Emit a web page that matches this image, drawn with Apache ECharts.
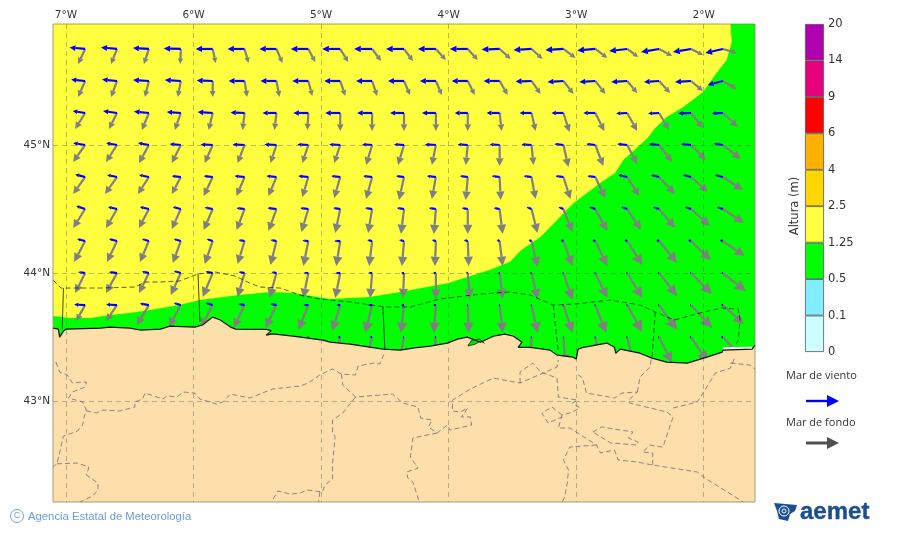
<!DOCTYPE html>
<html><head><meta charset="utf-8">
<style>html,body{margin:0;padding:0;background:#fff}#c{width:900px;height:533px}</style>
<script src="https://cdn.jsdelivr.net/npm/echarts@6/dist/echarts.min.js"></script>
</head><body><div id="c"></div>
<script>
const lonTicks=[-7,-6,-5,-4,-3,-2];
const latTicks=[45,44,43];
const cbLabels=['0','0.1','0.5','1.25','2.5','4','6','9','14','20'];
const cbColors=['#ccffff','#80eeff','#00ff00','#ffff40','#ffd700','#ffb000','#ff0000','#e6007e','#b000b0'];
const gridLons=[-6.85,-6.6,-6.35,-6.1,-5.85,-5.6,-5.35,-5.1,-4.85,-4.6,-4.35,-4.1,-3.85,-3.6,-3.35,-3.1,-2.85,-2.6,-2.35,-2.1,-1.85];
const gridLats=[45.75,45.5,45.25,45,44.75,44.5,44.25,44,43.75,43.5];
const n=null;
const swellU=[
[-7,-6,-5,-0.5,3,4,6,7,8,9,9,10,10,11,11,12,12,11,13,12,14],
[-7,-6,-4,-3,0,2.5,3,4,5,5,6,6,7,8,9,10,10,10,11,12,14],
[-10,-8,-7,-6,-4,-2,-2,-1,0,0,0,0,0,2,4,6,9,10,10,12,15],
[-12,-11,-10,-9,-8,-7,-6,-6,-6,-6,-6,-4,-2,0,2,5,8,10,13,15,18],
[-12,-12,-11,-9,-9,-8,-8,-6,-6,-6,-5,-4,-2,1,4,7,10,12,16,17,20],
[-12,-11,-10,-9,-9,-8,-8,-7,-5,-4,-3,-2,0,3,6,9,12,14,16,19,21],
[-11,-10,-9,-8,-8,-7,-6,-5,-4,-3,-2,-1,1,3,6,9,12,15,18,20,22],
[-10,-11,-10,-10,-10,-7,-7,-5,-5,-2,-1,0,2,3,6,9,12,15,18,21,23],
[-9,-11,-12,-12,-12,-11,-11,-10,-8,-7,-3,-2,1,3,6,9,11,15,18,21,21],
[n,n,n,n,n,n,n,-6,-7,-7,-5,-3,-1,1,-1,2,5,7,13,17,19]];
const swellV=[
[-15,-15,-15,-15,-14,-14,-14,-13,-13,-12,-12,-11,-11,-10,-10,-9,-9,-8,-7,-6,-4],
[-16,-16,-16,-16,-16,-16,-16,-15,-15,-15,-14,-14,-14,-14,-13,-13,-13,-12,-12,-10,-8],
[-16,-16,-17,-17,-17,-17,-17,-17,-18,-18,-18,-18,-18,-18,-18,-19,-18,-18,-17,-15,-14],
[-17,-17,-18,-18,-18,-18,-18,-18,-18,-20,-20,-20,-20,-21,-20,-22,-21,-19,-17,-15,-14],
[-17,-17,-17,-17,-19,-19,-19,-20,-21,-22,-23,-22,-23,-23,-22,-22,-21,-19,-17,-15,-13],
[-19,-19,-19,-20,-21,-21,-22,-23,-24,-24,-25,-25,-25,-25,-24,-23,-22,-21,-19,-17,-14],
[-21,-21,-21,-22,-23,-23,-24,-25,-25,-25,-25,-25,-25,-25,-26,-25,-25,-24,-22,-19,-15],
[-20,-20,-20,-22,-24,-24,-25,-25,-25,-25,-25,-26,-26,-26,-26,-27,-25,-25,-23,-21,-18],
[-16,-16,-20,-22,-23,-23,-23,-25,-26,-28,-28,-28,-28,-28,-28,-28,-28,-27,-25,-23,-19],
[n,n,n,n,n,n,n,-24,-25,-26,-26,-26,-27,-27,-27,-28,-28,-28,-26,-25,-20]];
const windU=[
[-15.5,-16,-16,-17,-17,-17,-17,-17.5,-18,-18,-18,-18,-18,-18,-18,-18,-18,-18,-18,-18,-17.5],
[-14,-15,-16,-16,-16,-16,-16,-16,-16,-16,-16,-16,-16,-16,-16,-16,-16,-16,-15,-16,-15],
[-12.5,-14,-15,-14,-15,-14,-14,-15,-15,-15,-14,-14,-13,-13,-12,-12,-12,-11,-11,-13,-11],
[-12,-11,-11,-11,-12,-12,-12,-11,-11,-10,-10,-11,-10,-10,-10,-9,-9,-10,-10,-10,-9],
[-10,-10,-10,-9,-9,-10,-10,-10,-9,-9,-8,-9,-8,-8,-8,-8,-8,-9,-8,-8,-8],
[-9,-9,-9,-8,-8,-8,-9,-8,-7,-7,-7,-7,-6,-6,-5,-5,-6,-6,-6,-6,-6],
[-8,-8,-7,-7,-6,-6,-6,-6,-6,-5,-5,-4,-4,-3,-3,-3,-3,-3,-3,-3,-3],
[-7,-8,-7,-7,-7,-6,-5,-5,-5,-4,-3,-3,-2,-1.5,-1.5,-1,-1,-1,-1,-1,-1.5],
[-11,-11,-9,-7,-7,-6,-6,-5,-4,-4.5,-3,-3,-1,-1,-1,-1,-1,-1,-1,-1,-2],
[n,n,n,n,n,n,n,-1,-2.5,-2.5,-1.5,-1.5,-1,-1,-1,-0.5,-1,-1,-1,-1.5,-2]];
const windV=[
[1.5,1.5,1,0.5,0,0,0,0,0,0,0,0,0,-0.5,-1,-1,-1.5,-2,-3,-3,-4],
[1.5,1.5,1,1,0.5,0,0,0,0,0,0,0,0,0,-0.5,-1,-1,-1,-1,-1,-4],
[2,2,1.5,1,1,0.5,0,0,0,0,0,0,0,0,0,0,0,-0.5,-0.5,-0.5,-0.5],
[2,2,2,1,0.5,0.5,0.5,0.5,0.5,0.5,0.5,0.5,0.5,0.5,0.5,1,1,1,1,1,1.5],
[2.5,2,2,1,1,1,1,1,1,1,1,1,1,1,1,1,1,2,2,2,2],
[3,2,2,2,1.5,1,1,1,1,1,1,1,1,1,2,2,2,2,2,2,2],
[2,2,2,2,2,1,1,0.5,0,1,1,1,1,1,1,1,1,1,1,1,1],
[1,1,1.5,2,1.5,1,1,0,0,0,0,0,0.5,0,0,0,0,0,0,0,0.5],
[0.5,0.5,1.5,2,2,1,1,0,0,0,0,0,0,0,0,0,0,0,0,0,0.5],
[n,n,n,n,n,n,n,0,0,0,0,0,0,0,0,0,0,0,0,0,0]];

const greenEdge=[[-7.10,43.664],[-6.97,43.649],[-6.81,43.649],[-6.655,43.672],[-6.50,43.688],[-6.34,43.711],[-6.11,43.75],[-5.95,43.789],[-5.64,43.828],[-5.40,43.852],[-5.22,43.844],[-4.93,43.797],[-4.62,43.813],[-4.38,43.852],[-4.00,43.922],[-3.68,44.024],[-3.52,44.086],[-3.43,44.18],[-3.28,44.281],[-3.02,44.547],[-2.81,44.703],[-2.695,44.781],[-2.63,44.883],[-2.50,45.0],[-2.44,45.055],[-2.38,45.133],[-2.29,45.219],[-2.16,45.297],[-2.005,45.414],[-1.90,45.562],[-1.82,45.664],[-1.78,45.805],[-1.79,45.945],[-1.598,45.945],[-1.598,43.2],[-7.102,43.2]];
const coast=[[-7.102,43.57],[-7.06,43.562],[-7.05,43.50],[-7.02,43.547],[-7.00,43.562],[-6.73,43.57],[-6.655,43.578],[-6.50,43.57],[-6.42,43.555],[-6.26,43.562],[-6.185,43.585],[-5.99,43.578],[-5.93,43.594],[-5.85,43.656],[-5.79,43.633],[-5.71,43.578],[-5.67,43.562],[-5.43,43.56],[-5.39,43.55],[-5.43,43.515],[-5.38,43.525],[-5.22,43.507],[-4.985,43.476],[-4.93,43.46],[-4.773,43.445],[-4.515,43.406],[-4.38,43.398],[-4.28,43.414],[-4.146,43.43],[-4.01,43.453],[-3.93,43.484],[-3.855,43.50],[-3.75,43.46],[-3.65,43.507],[-3.56,43.523],[-3.49,43.507],[-3.425,43.46],[-3.455,43.42],[-3.36,43.42],[-3.205,43.398],[-3.15,43.359],[-3.025,43.343],[-3.0,43.328],[-2.985,43.406],[-2.945,43.42],[-2.76,43.453],[-2.70,43.42],[-2.69,43.374],[-2.655,43.406],[-2.50,43.374],[-2.405,43.336],[-2.29,43.304],[-2.13,43.296],[-1.975,43.343],[-1.855,43.382],[-1.85,43.398],[-1.62,43.406],[-1.598,43.437]];
const landCorners=[[-1.598,42.212],[-7.102,42.212]];
const whitePatches=[
[[-1.85,43.42],[-1.62,43.425],[-1.62,43.405],[-1.85,43.40]],
[[-3.55,43.525],[-3.49,43.515],[-3.47,43.50],[-3.52,43.51]],
[[-4.27,43.415],[-4.17,43.43],[-4.17,43.42],[-4.27,43.405]]];
const bay=[[-3.85,43.43],[-3.82,43.477],[-3.755,43.484],[-3.72,43.453],[-3.75,43.469],[-3.79,43.445]];
const landBorders=[
[[-7.08,43.305],[-7.05,43.227],[-6.99,43.204],[-6.95,43.141],[-6.87,43.149],[-6.84,43.149],[-6.85,43.11],[-6.95,43.071],[-6.98,43.024],[-6.87,42.993],[-6.84,42.93],[-6.86,42.868],[-6.87,42.813],[-6.91,42.766],[-7.02,42.727],[-7.04,42.641],[-7.07,42.516],[-7.10,42.485]],
[[-7.07,42.51],[-6.91,42.516],[-6.82,42.485],[-6.84,42.423],[-6.75,42.36],[-6.75,42.306],[-6.79,42.259],[-6.89,42.212]],
[[-6.84,42.923],[-6.76,42.907],[-6.71,42.93],[-6.58,42.923],[-6.46,42.954],[-6.46,42.993],[-6.40,43.016],[-6.38,43.063],[-6.24,43.016],[-6.21,43.04],[-6.13,43.032],[-6.08,43.071],[-5.99,43.063],[-5.95,43.016],[-5.82,42.977],[-5.77,42.993],[-5.71,43.055],[-5.56,43.024],[-5.46,43.063],[-5.38,43.094],[-5.165,43.118],[-5.10,43.141],[-5.01,43.204],[-4.91,43.251],[-4.84,43.211],[-4.73,43.204],[-4.71,43.274],[-4.59,43.297],[-4.54,43.29],[-4.50,43.383]],
[[-4.84,43.211],[-4.83,43.126],[-4.73,43.032],[-4.44,43.055],[-4.36,42.985],[-4.24,42.954],[-4.22,42.868],[-4.13,42.852],[-4.16,42.798],[-4.09,42.751],[-4.01,42.813],[-3.99,42.774],[-3.82,42.813],[-3.83,42.876],[-3.90,42.876],[-3.85,42.946],[-3.91,42.915],[-3.97,42.923],[-3.97,43.008],[-3.83,43.094],[-3.65,43.18],[-3.44,43.141],[-3.15,43.266],[-3.14,43.321]],
[[-4.73,43.032],[-4.83,42.907],[-4.91,42.852],[-4.91,42.751],[-4.89,42.72],[-4.91,42.516],[-4.91,42.391],[-4.97,42.345],[-4.99,42.29],[-5.11,42.306],[-5.165,42.282],[-5.24,42.274],[-5.34,42.298],[-5.38,42.228]],
[[-5.01,42.29],[-5.02,42.212]],
[[-4.09,42.751],[-4.28,42.712],[-4.30,42.563],[-4.24,42.477],[-4.33,42.446],[-4.32,42.399],[-4.28,42.368],[-4.23,42.212]],
[[-3.44,43.141],[-3.44,43.227],[-3.34,43.297],[-3.28,43.227],[-3.15,43.18],[-3.14,43.032],[-2.99,43.008],[-3.03,42.985],[-2.97,42.946],[-3.05,42.907],[-3.11,42.891],[-3.14,42.79],[-3.05,42.79],[-2.84,42.657],[-2.81,42.595],[-2.70,42.618],[-2.67,42.54],[-2.52,42.524],[-2.40,42.501],[-2.05,42.446],[-1.99,42.399],[-1.69,42.212]],
[[-3.11,42.891],[-3.19,42.954],[-3.27,42.907],[-3.22,42.829],[-3.11,42.876]],
[[-2.84,42.657],[-3.05,42.641],[-3.10,42.54],[-3.06,42.462],[-3.07,42.36],[-3.09,42.251],[-3.11,42.212]],
[[-2.87,42.759],[-2.80,42.798],[-2.555,42.759],[-2.59,42.712],[-2.515,42.68],[-2.52,42.657],[-2.73,42.673],[-2.87,42.759]],
[[-2.40,42.501],[-2.40,42.595],[-2.48,42.602],[-2.42,42.657],[-2.32,42.641],[-2.24,42.876],[-2.29,42.915],[-2.58,42.985],[-2.59,43.008],[-2.52,43.071],[-2.64,43.063],[-2.70,43.024],[-2.92,43.063],[-2.95,43.18],[-2.99,43.211]],
[[-2.52,43.071],[-2.50,43.188],[-2.42,43.266],[-2.41,43.344]],
[[-2.24,42.946],[-2.05,42.993],[-1.99,43.087],[-1.91,43.219],[-1.79,43.258],[-1.755,43.344]],
[[-1.79,43.297],[-1.64,43.282],[-1.598,43.25]]];
const seaZone=[[-7.102,43.946],[-7.04,43.883],[-7.02,43.883],[-6.73,43.883],[-6.46,43.891],[-6.38,43.93],[-6.26,43.93],[-6.11,43.938],[-5.965,43.993],[-5.83,44.008],[-5.675,43.977],[-5.56,43.922],[-5.48,43.891],[-5.32,43.883],[-5.165,43.828],[-5.01,43.797],[-4.77,43.774],[-4.50,43.735],[-4.30,43.735],[-4.07,43.797],[-3.75,43.836],[-3.52,43.852],[-3.36,43.828],[-3.18,43.75],[-3.01,43.758],[-2.73,43.789],[-2.50,43.75],[-2.38,43.696],[-2.23,43.633],[-2.03,43.688],[-1.86,43.727],[-1.73,43.719],[-1.715,43.633],[-1.73,43.477],[-1.755,43.422]];
const seaSolid=[[[-7.02,43.883],[-7.03,43.56]],[[-5.965,43.993],[-5.95,43.62]],[[-4.515,43.735],[-4.50,43.40]]];
const seaDashed=[[[-3.18,43.75],[-3.14,43.38]],[[-2.38,43.696],[-2.405,43.336]]];

function poly(points,fill,z,stroke){
  return {type:'custom',xAxisIndex:0,yAxisIndex:0,z,silent:true,clip:true,data:[0],
    renderItem:(p,api)=>({type:'polygon',shape:{points:points.map(q=>api.coord(q))},
      style:{fill,stroke:stroke||null,lineWidth:stroke?0.8:0}})};
}
function line(points,color,width,type,z){
  return {type:'line',xAxisIndex:0,yAxisIndex:0,data:points,symbol:'none',silent:true,z,
    lineStyle:{color,width,type}};
}
function vectors(U,V,color,z){
  const rows=[];
  gridLats.forEach((la,r)=>gridLons.forEach((lo,c)=>{
    if(U[r][c]!==null) rows.push([lo,la,U[r][c],V[r][c]]);
  }));
  return {type:'custom',xAxisIndex:0,yAxisIndex:0,z,silent:true,clip:true,
    encode:{x:0,y:1},data:rows,
    renderItem:(p,api)=>{
      const o=api.coord([api.value(0),api.value(1)]);
      const u=api.value(2),v=-api.value(3),len=Math.hypot(u,v)||1;
      const ux=u/len,uy=v/len,h=len*0.37,w=h*0.5;
      const t=[o[0]+u,o[1]+v],b=[t[0]-ux*h,t[1]-uy*h];
      return {type:'group',children:[
        {type:'line',shape:{x1:o[0],y1:o[1],x2:b[0],y2:b[1]},style:{stroke:color,lineWidth:2.2}},
        {type:'polygon',shape:{points:[t,[b[0]-uy*w,b[1]+ux*w],[b[0]+uy*w,b[1]-ux*w]]},style:{fill:color}}
      ]};
    }};
}
const cbSeries=cbColors.map(col=>({type:'bar',xAxisIndex:1,yAxisIndex:1,stack:'cb',data:[1],barWidth:'100%',silent:true,
  itemStyle:{color:col,borderColor:'#555',borderWidth:0.8}}));
const labelFont='"DejaVu Sans"';
const axisGrid={show:true,lineStyle:{color:'rgba(90,90,90,0.42)',width:1,type:[5,4]}};
const navy='#1c4f8f';
function legendArrow(y,color,w){
  return [{type:'line',shape:{x1:806,y1:y,x2:828,y2:y},style:{stroke:color,lineWidth:w}},
    {type:'polygon',shape:{points:[[839,y],[827,y-6],[827,y+6]]},style:{fill:color}}];
}
const chart=echarts.init(document.getElementById('c'),null,{renderer:'canvas'});
chart.setOption({
  animation:false,backgroundColor:'#fff',
  grid:[{left:53,top:24,width:702,height:478,show:true,backgroundColor:'#ffff40',borderWidth:0},
        {left:805,top:24,width:19,height:328,show:false}],
  xAxis:[{type:'value',gridIndex:0,position:'top',min:-7.102,max:-1.598,z:4,
    axisLine:{show:false},axisTick:{show:false,customValues:lonTicks},
    axisLabel:{customValues:lonTicks,formatter:v=>(-v)+'°W',color:'#333',fontFamily:labelFont,fontSize:10.5,margin:3},
    splitLine:axisGrid},
   {type:'category',gridIndex:1,data:['h'],show:false}],
  yAxis:[{type:'value',gridIndex:0,position:'left',min:42.212,max:45.945,z:4,
    axisLine:{show:false},axisTick:{show:false,customValues:latTicks},
    axisLabel:{customValues:latTicks,formatter:v=>v+'°N',color:'#333',fontFamily:labelFont,fontSize:10.5,margin:3},
    splitLine:axisGrid},
   {type:'value',gridIndex:1,position:'right',min:0,max:9,interval:1,
    axisLine:{show:false},axisTick:{show:false},splitLine:{show:false},
    axisLabel:{formatter:v=>cbLabels[v],color:'#333',fontFamily:labelFont,fontSize:11.5,margin:4}}],
  series:[
    poly(greenEdge,'#00ff00',1),
    vectors(swellU,swellV,'#808080',2),
    vectors(windU,windV,'#0000ff',2.5),
    poly(coast.concat(landCorners),'#fddfab',3),
    ...whitePatches.map(q=>poly(q,'#ffffff',3.1)),
    poly(bay,'#00e000',3.2,'#003300'),
    ...landBorders.map(q=>line(q,'rgba(85,85,115,0.75)',0.9,[5,3],5)),
    line(coast,'#111',1.2,'solid',5),
    line(seaZone,'rgba(0,0,0,0.7)',0.9,[5,3],5),
    ...seaSolid.map(q=>line(q,'rgba(0,0,0,0.8)',0.9,'solid',5)),
    ...seaDashed.map(q=>line(q,'rgba(0,0,0,0.8)',0.9,[5,3],5)),
    ...cbSeries
  ],
  graphic:{elements:[
    {type:'rect',z:100,shape:{x:53,y:24,width:702,height:478},style:{fill:null,stroke:'rgba(130,125,90,0.75)',lineWidth:1}},
    {type:'text',z:100,x:795,y:206,rotation:Math.PI/2,style:{text:'Altura (m)',fill:'#333',font:'11.5px "DejaVu Sans"',align:'center',verticalAlign:'middle'}},
    {type:'text',z:100,x:786,y:376,style:{text:'Mar de viento',fill:'#333',font:'11px "Open Sans"',verticalAlign:'middle'}},
    ...legendArrow(401,'#0000ff',2.4).map(e=>({...e,z:100})),
    {type:'text',z:100,x:786,y:423,style:{text:'Mar de fondo',fill:'#333',font:'11px "Open Sans"',verticalAlign:'middle'}},
    ...legendArrow(443,'#505050',3).map(e=>({...e,z:100})),
    {type:'circle',z:100,shape:{cx:17,cy:516,r:6.5},style:{fill:null,stroke:'#6f9fe6',lineWidth:1}},
    {type:'text',z:100,x:17,y:516,style:{text:'C',fill:'#6f9fe6',font:'9px "Liberation Sans"',align:'center',verticalAlign:'middle'}},
    {type:'text',z:100,x:28,y:516.5,style:{text:'Agencia Estatal de Meteorología',fill:'#6b9be0',font:'11.3px "Liberation Sans"',verticalAlign:'middle'}},
    {type:'polygon',z:100,shape:{points:[[774,503],[797,505],[795,511],[790,514],[788,521],[779,519],[777,511]]},style:{fill:navy}},
    {type:'circle',z:101,shape:{cx:784,cy:511,r:5},style:{fill:null,stroke:'#fff',lineWidth:1}},
    {type:'circle',z:101,shape:{cx:784,cy:511,r:2},style:{fill:null,stroke:'#fff',lineWidth:1}},
    {type:'text',z:100,x:800,y:512,style:{text:'aemet',fill:navy,stroke:navy,lineWidth:0.4,font:'bold 24px "Liberation Sans"',verticalAlign:'middle'}}
  ]}
});
</script></body></html>
